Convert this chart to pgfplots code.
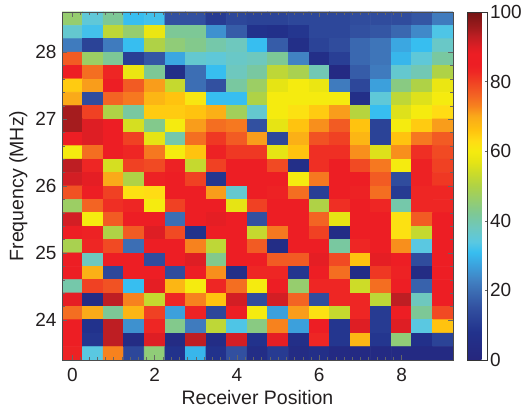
\documentclass[border=0pt]{standalone}
\usepackage{pgfplots}
\pgfplotsset{compat=1.18}
\usepackage{fontspec}
\setmainfont{Liberation Sans}
\definecolor{txt}{RGB}{35,31,32}
\begin{document}
\begin{tikzpicture}
\useasboundingbox (-62bp,-48bp) rectangle (461bp,360bp);
\begin{axis}[
  scale only axis, width=391bp, height=348bp,
  xmin=-0.25, xmax=9.25, ymin=23.4, ymax=28.6,
  axis on top, axis line style={line width=0.4bp, black!70},
  xtick={0,2,4,6,8}, minor x tick num=9,
  ytick={24,25,26,27,28}, minor y tick num=4,
  tick style={line width=0.3bp, black!60},
  major tick length=5bp, minor tick length=3bp,
  tick align=inside, xtick pos=both, ytick pos=both,
  /pgf/number format/assume math mode=true,
  tick label style={font=\fontsize{19bp}{22bp}\selectfont, text=txt},
  xlabel={Receiver Position}, ylabel={Frequency (MHz)},
  label style={font=\fontsize{19.5bp}{22bp}\selectfont, text=txt},
  xlabel style={at={(axis description cs:0.5,0)}, anchor=north, yshift=-27bp},
  ylabel style={at={(axis description cs:0,0.5)}, anchor=south, yshift=31bp},
  xticklabel style={yshift=-5bp},
  yticklabel style={xshift=-2bp},
  colormap={muted}{rgb255(0)=(38,38,125) rgb255(8)=(34,50,140) rgb255(15)=(50,80,160) rgb255(20)=(60,110,180) rgb255(23)=(65,130,195) rgb255(27)=(60,160,220) rgb255(31)=(55,190,240) rgb255(34)=(90,200,225) rgb255(38)=(110,200,190) rgb255(42)=(125,200,150) rgb255(46)=(150,205,110) rgb255(50)=(175,210,70) rgb255(54)=(205,220,40) rgb255(57)=(230,228,20) rgb255(60)=(245,235,15) rgb255(63)=(255,220,20) rgb255(66)=(255,195,15) rgb255(70)=(250,170,25) rgb255(73)=(247,130,30) rgb255(76)=(243,100,35) rgb255(80)=(240,65,35) rgb255(83)=(238,38,36) rgb255(85)=(237,30,36) rgb255(88)=(237,30,36) rgb255(90)=(222,30,36) rgb255(93)=(190,30,35) rgb255(95)=(165,28,30) rgb255(100)=(115,20,20)},
  point meta min=0, point meta max=100,
  colorbar,
  colorbar style={
    at={(parent axis.north east)}, anchor=north west, xshift=6bp,
    width=20bp, height=348bp,
    ytick={0,20,40,60,80,100}, ytick pos=right, yticklabel pos=right,
    major tick length=3bp, tick align=inside,
    /pgf/number format/assume math mode=true,
    tick label style={font=\fontsize{19bp}{22bp}\selectfont, text=txt},
    yticklabel style={xshift=-1bp},
    axis line style={line width=0.4bp, black!80},
    samples=64,
  },
]
\addplot[matrix plot*, shader=faceted, faceted color=mapped color, line width=0.7bp, mesh/cols=19, mesh/rows=26, point meta=explicit]
 table[x=x, y=y, meta=c, row sep=\\] {
x y c\\
0 28.5 46\\ 0.5 28.5 35\\ 1 28.5 42\\ 1.5 28.5 31\\ 2 28.5 32\\ 2.5 28.5 15\\ 3 28.5 15\\ 3.5 28.5 10\\ 4 28.5 13\\ 4.5 28.5 12\\ 5 28.5 12\\ 5.5 28.5 13\\ 6 28.5 13\\ 6.5 28.5 13\\ 7 28.5 14\\ 7.5 28.5 14\\ 8 28.5 14\\ 8.5 28.5 16\\ 9 28.5 22\\
0 28.3 36\\ 0.5 28.3 32\\ 1 28.3 52\\ 1.5 28.3 46\\ 2 28.3 58\\ 2.5 28.3 42\\ 3 28.3 42\\ 3.5 28.3 25\\ 4 28.3 17\\ 4.5 28.3 8\\ 5 28.3 7\\ 5.5 28.3 9\\ 6 28.3 13\\ 6.5 28.3 13\\ 7 28.3 15\\ 7.5 28.3 16\\ 8 28.3 19\\ 8.5 28.3 24\\ 9 28.3 33\\
0 28.1 22\\ 0.5 28.1 12\\ 1 28.1 22\\ 1.5 28.1 31\\ 2 28.1 50\\ 2.5 28.1 45\\ 3 28.1 43\\ 3.5 28.1 40\\ 4 28.1 38\\ 4.5 28.1 31\\ 5 28.1 17\\ 5.5 28.1 6\\ 6 28.1 12\\ 6.5 28.1 14\\ 7 28.1 19\\ 7.5 28.1 21\\ 8 28.1 28\\ 8.5 28.1 31\\ 9 28.1 37\\
0 27.9 77\\ 0.5 27.9 47\\ 1 27.9 42\\ 1.5 27.9 11\\ 2 27.9 16\\ 2.5 27.9 28\\ 3 27.9 36\\ 3.5 27.9 35\\ 4 27.9 37\\ 4.5 27.9 38\\ 5 27.9 42\\ 5.5 27.9 23\\ 6 27.9 6\\ 6.5 27.9 11\\ 7 27.9 19\\ 7.5 27.9 21\\ 8 27.9 30\\ 8.5 27.9 35\\ 9 27.9 41\\
0 27.7 85\\ 0.5 27.7 75\\ 1 27.7 83\\ 1.5 27.7 58\\ 2 27.7 42\\ 2.5 27.7 6\\ 3 27.7 20\\ 3.5 27.7 31\\ 4 27.7 38\\ 4.5 27.7 41\\ 5 27.7 52\\ 5.5 27.7 49\\ 6 27.7 39\\ 6.5 27.7 3\\ 7 27.7 17\\ 7.5 27.7 22\\ 8 27.7 36\\ 8.5 27.7 39\\ 9 27.7 50\\
0 27.5 65\\ 0.5 27.5 71\\ 1 27.5 87\\ 1.5 27.5 77\\ 2 27.5 71\\ 2.5 27.5 53\\ 3 27.5 20\\ 3.5 27.5 15\\ 4 27.5 41\\ 4.5 27.5 47\\ 5 27.5 57\\ 5.5 27.5 60\\ 6 27.5 58\\ 6.5 27.5 22\\ 7 27.5 13\\ 7.5 27.5 27\\ 8 27.5 44\\ 8.5 27.5 50\\ 9 27.5 58\\
0 27.3 70\\ 0.5 27.3 14\\ 1 27.3 76\\ 1.5 27.3 74\\ 2 27.3 68\\ 2.5 27.3 66\\ 3 27.3 61\\ 3.5 27.3 31\\ 4 27.3 31\\ 4.5 27.3 50\\ 5 27.3 60\\ 5.5 27.3 60\\ 6 27.3 60\\ 6.5 27.3 60\\ 7 27.3 6\\ 7.5 27.3 35\\ 8 27.3 52\\ 8.5 27.3 56\\ 9 27.3 60\\
0 27.1 95\\ 0.5 27.1 80\\ 1 27.1 50\\ 1.5 27.1 41\\ 2 27.1 65\\ 2.5 27.1 65\\ 3 27.1 66\\ 3.5 27.1 69\\ 4 27.1 48\\ 4.5 27.1 36\\ 5 27.1 60\\ 5.5 27.1 62\\ 6 27.1 65\\ 6.5 27.1 71\\ 7 27.1 51\\ 7.5 27.1 31\\ 8 27.1 56\\ 8.5 27.1 60\\ 9 27.1 63\\
0 26.9 95\\ 0.5 26.9 90\\ 1 26.9 87\\ 1.5 26.9 55\\ 2 26.9 43\\ 2.5 26.9 60\\ 3 26.9 71\\ 3.5 26.9 75\\ 4 26.9 74\\ 4.5 26.9 15\\ 5 26.9 57\\ 5.5 26.9 66\\ 6 26.9 72\\ 6.5 26.9 77\\ 7 26.9 66\\ 7.5 26.9 12\\ 8 26.9 60\\ 8.5 26.9 65\\ 9 26.9 71\\
0 26.7 85\\ 0.5 26.7 90\\ 1 26.7 87\\ 1.5 26.7 80\\ 2 26.7 57\\ 2.5 26.7 40\\ 3 26.7 75\\ 3.5 26.7 81\\ 4 26.7 77\\ 4.5 26.7 71\\ 5 26.7 13\\ 5.5 26.7 69\\ 6 26.7 78\\ 6.5 26.7 80\\ 7 26.7 68\\ 7.5 26.7 12\\ 8 26.7 66\\ 8.5 26.7 74\\ 9 26.7 77\\
0 26.5 60\\ 0.5 26.5 75\\ 1 26.5 85\\ 1.5 26.5 83\\ 2 26.5 74\\ 2.5 26.5 60\\ 3 26.5 66\\ 3.5 26.5 84\\ 4 26.5 81\\ 4.5 26.5 81\\ 5 26.5 57\\ 5.5 26.5 66\\ 6 26.5 82\\ 6.5 26.5 82\\ 7 26.5 72\\ 7.5 26.5 56\\ 8 26.5 72\\ 8.5 26.5 82\\ 9 26.5 79\\
0 26.3 93\\ 0.5 26.3 83\\ 1 26.3 55\\ 1.5 26.3 80\\ 2 26.3 79\\ 2.5 26.3 84\\ 3 26.3 53\\ 3.5 26.3 80\\ 4 26.3 85\\ 4.5 26.3 85\\ 5 26.3 79\\ 5.5 26.3 6\\ 6 26.3 82\\ 6.5 26.3 85\\ 7 26.3 79\\ 7.5 26.3 74\\ 8 26.3 60\\ 8.5 26.3 84\\ 9 26.3 80\\
0 26.1 91\\ 0.5 26.1 89\\ 1 26.1 70\\ 1.5 26.1 50\\ 2 26.1 84\\ 2.5 26.1 87\\ 3 26.1 80\\ 3.5 26.1 9\\ 4 26.1 85\\ 4.5 26.1 87\\ 5 26.1 85\\ 5.5 26.1 60\\ 6 26.1 74\\ 6.5 26.1 87\\ 7 26.1 86\\ 7.5 26.1 77\\ 8 26.1 14\\ 8.5 26.1 84\\ 9 26.1 81\\
0 25.9 78\\ 0.5 25.9 87\\ 1 25.9 80\\ 1.5 25.9 62\\ 2 25.9 63\\ 2.5 25.9 87\\ 3 25.9 86\\ 3.5 25.9 71\\ 4 25.9 36\\ 4.5 25.9 87\\ 5 25.9 84\\ 5.5 25.9 75\\ 6 25.9 11\\ 6.5 25.9 87\\ 7 25.9 84\\ 7.5 25.9 75\\ 8 25.9 10\\ 8.5 25.9 83\\ 9 25.9 83\\
0 25.7 47\\ 0.5 25.7 76\\ 1 25.7 82\\ 1.5 25.7 83\\ 2 25.7 60\\ 2.5 25.7 80\\ 3 25.7 87\\ 3.5 25.7 86\\ 4 25.7 57\\ 4.5 25.7 80\\ 5 25.7 86\\ 5.5 25.7 85\\ 6 25.7 50\\ 6.5 25.7 82\\ 7 25.7 87\\ 7.5 25.7 83\\ 8 25.7 40\\ 8.5 25.7 83\\ 9 25.7 83\\
0 25.5 91\\ 0.5 25.5 60\\ 1 25.5 77\\ 1.5 25.5 87\\ 2 25.5 87\\ 2.5 25.5 20\\ 3 25.5 87\\ 3.5 25.5 89\\ 4 25.5 85\\ 4.5 25.5 15\\ 5 25.5 87\\ 5.5 25.5 87\\ 6 25.5 76\\ 6.5 25.5 57\\ 7 25.5 87\\ 7.5 25.5 87\\ 8 25.5 62\\ 8.5 25.5 77\\ 9 25.5 85\\
0 25.3 87\\ 0.5 25.3 84\\ 1 25.3 50\\ 1.5 25.3 77\\ 2 25.3 90\\ 2.5 25.3 79\\ 3 25.3 8\\ 3.5 25.3 87\\ 4 25.3 87\\ 4.5 25.3 53\\ 5 25.3 74\\ 5.5 25.3 87\\ 6 25.3 80\\ 6.5 25.3 5\\ 7 25.3 87\\ 7.5 25.3 86\\ 8 25.3 62\\ 8.5 25.3 53\\ 9 25.3 87\\
0 25.1 49\\ 0.5 25.1 83\\ 1 25.1 79\\ 1.5 25.1 20\\ 2 25.1 87\\ 2.5 25.1 87\\ 3 25.1 73\\ 3.5 25.1 52\\ 4 25.1 87\\ 4.5 25.1 77\\ 5 25.1 5\\ 5.5 25.1 85\\ 6 25.1 85\\ 6.5 25.1 41\\ 7 25.1 83\\ 7.5 25.1 87\\ 8 25.1 72\\ 8.5 25.1 34\\ 9 25.1 87\\
0 24.9 87\\ 0.5 24.9 38\\ 1 24.9 87\\ 1.5 24.9 87\\ 2 24.9 14\\ 2.5 24.9 87\\ 3 24.9 90\\ 3.5 24.9 43\\ 4 24.9 87\\ 4.5 24.9 87\\ 5 24.9 77\\ 5.5 24.9 77\\ 6 24.9 89\\ 6.5 24.9 79\\ 7 24.9 66\\ 7.5 24.9 89\\ 8 24.9 87\\ 8.5 24.9 14\\ 9 24.9 87\\
0 24.7 87\\ 0.5 24.7 69\\ 1 24.7 13\\ 1.5 24.7 87\\ 2 24.7 85\\ 2.5 24.7 14\\ 3 24.7 87\\ 3.5 24.7 72\\ 4 24.7 6\\ 4.5 24.7 83\\ 5 24.7 83\\ 5.5 24.7 9\\ 6 24.7 87\\ 6.5 24.7 75\\ 7 24.7 5\\ 7.5 24.7 81\\ 8 24.7 84\\ 8.5 24.7 4\\ 9 24.7 87\\
0 24.5 40\\ 0.5 24.5 80\\ 1 24.5 78\\ 1.5 24.5 31\\ 2 24.5 89\\ 2.5 24.5 68\\ 3 24.5 60\\ 3.5 24.5 83\\ 4 24.5 75\\ 4.5 24.5 60\\ 5 24.5 87\\ 5.5 24.5 46\\ 6 24.5 83\\ 6.5 24.5 83\\ 7 24.5 54\\ 7.5 24.5 75\\ 8 24.5 87\\ 8.5 24.5 18\\ 9 24.5 87\\
0 24.3 89\\ 0.5 24.3 4\\ 1 24.3 93\\ 1.5 24.3 73\\ 2 24.3 53\\ 2.5 24.3 83\\ 3 24.3 73\\ 3.5 24.3 66\\ 4 24.3 91\\ 4.5 24.3 14\\ 5 24.3 91\\ 5.5 24.3 76\\ 6 24.3 14\\ 6.5 24.3 83\\ 7 24.3 83\\ 7.5 24.3 52\\ 8 24.3 93\\ 8.5 24.3 38\\ 9 24.3 87\\
0 24.1 75\\ 0.5 24.1 70\\ 1 24.1 42\\ 1.5 24.1 68\\ 2 24.1 80\\ 2.5 24.1 27\\ 3 24.1 84\\ 3.5 24.1 13\\ 4 24.1 87\\ 4.5 24.1 60\\ 5 24.1 27\\ 5.5 24.1 71\\ 6 24.1 62\\ 6.5 24.1 53\\ 7 24.1 83\\ 7.5 24.1 10\\ 8 24.1 87\\ 8.5 24.1 42\\ 9 24.1 79\\
0 23.9 87\\ 0.5 23.9 8\\ 1 23.9 93\\ 1.5 23.9 25\\ 2 23.9 83\\ 2.5 23.9 43\\ 3 23.9 22\\ 3.5 23.9 52\\ 4 23.9 33\\ 4.5 23.9 44\\ 5 23.9 73\\ 5.5 23.9 27\\ 6 23.9 87\\ 6.5 23.9 9\\ 7 23.9 90\\ 7.5 23.9 10\\ 8 23.9 90\\ 8.5 23.9 34\\ 9 23.9 66\\
0 23.7 87\\ 0.5 23.7 9\\ 1 23.7 93\\ 1.5 23.7 4\\ 2 23.7 90\\ 2.5 23.7 4\\ 3 23.7 93\\ 3.5 23.7 5\\ 4 23.7 91\\ 4.5 23.7 8\\ 5 23.7 89\\ 5.5 23.7 6\\ 6 23.7 83\\ 6.5 23.7 9\\ 7 23.7 68\\ 7.5 23.7 9\\ 8 23.7 45\\ 8.5 23.7 7\\ 9 23.7 12\\
0 23.5 84\\ 0.5 23.5 34\\ 1 23.5 73\\ 1.5 23.5 13\\ 2 23.5 45\\ 2.5 23.5 8\\ 3 23.5 30\\ 3.5 23.5 8\\ 4 23.5 15\\ 4.5 23.5 5\\ 5 23.5 10\\ 5.5 23.5 4\\ 6 23.5 6\\ 6.5 23.5 3\\ 7 23.5 3\\ 7.5 23.5 3\\ 8 23.5 3\\ 8.5 23.5 3\\ 9 23.5 3\\
};
\end{axis}
\end{tikzpicture}
\end{document}
